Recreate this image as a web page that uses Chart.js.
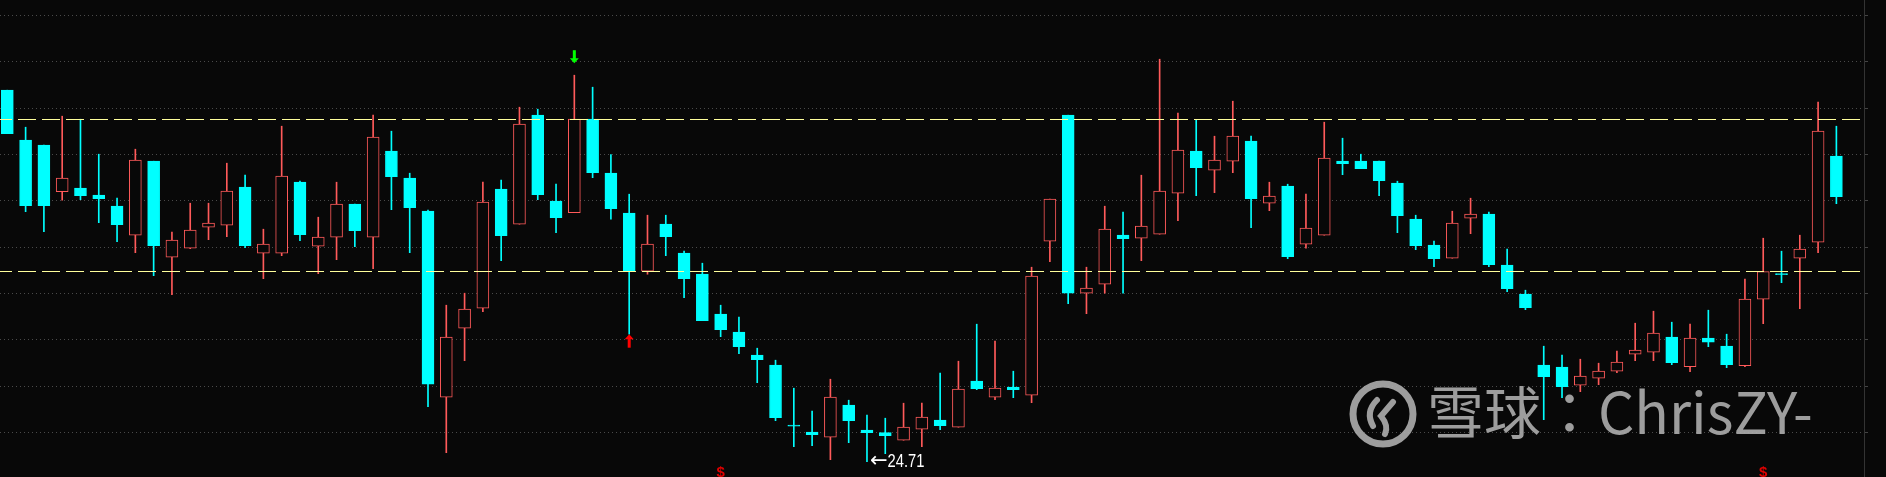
<!DOCTYPE html>
<html>
<head>
<meta charset="utf-8">
<script src="https://cdn.jsdelivr.net/npm/chart.js@4.4.0/dist/chart.umd.min.js"></script>
<style>
  html, body { margin: 0; padding: 0; background: #080808; }
  #wrap { width: 1886px; height: 477px; }
</style>
</head>
<body>
<div id="wrap"><canvas id="kline" width="1886" height="477"></canvas></div>
<script>
'use strict';

// daily candles, oldest first
let openPx = [
    32.14, 31.14, 31.04, 30.11, 30.18, 30.04, 29.82, 29.24, 30.72, 28.80,
    28.98, 29.40, 29.44, 30.20, 28.88, 28.88, 30.30, 29.02, 29.20, 29.86,
    29.20, 30.92, 30.38, 29.72, 26.00, 27.38, 27.78, 30.16, 29.46, 31.64,
    29.92, 29.69, 31.56, 30.48, 29.68, 28.52, 29.46, 28.88, 28.46, 27.66,
    27.30, 26.84, 26.64, 25.44, 25.30, 25.20, 25.84, 25.34, 25.29, 25.14,
    25.36, 25.54, 25.40, 26.32, 26.00, 26.20, 26.04, 29.12, 31.64, 28.08,
    28.26, 29.24, 29.18, 29.26, 30.08, 30.92, 30.54, 30.72, 31.12, 29.88,
    30.22, 29.06, 29.24, 30.72, 30.72, 30.72, 30.28, 29.56, 29.04, 28.78,
    29.58, 29.66, 28.64, 28.06, 26.64, 26.60, 26.24, 26.38, 26.52, 26.86,
    26.90, 27.20, 26.61, 27.18, 27.02, 26.63, 27.96, 28.47, 28.78, 29.10,
    30.82
];
let closePx = [
    31.27, 29.83, 29.83, 30.38, 30.03, 29.97, 29.45, 30.74, 29.03, 29.14,
    29.34, 29.48, 30.12, 29.03, 29.06, 30.42, 29.25, 29.20, 29.86, 29.33,
    31.20, 30.41, 29.79, 26.26, 27.20, 27.76, 29.90, 29.23, 31.46, 30.05,
    29.59, 31.56, 30.49, 29.77, 28.52, 29.06, 29.21, 28.37, 27.53, 27.35,
    27.01, 26.75, 25.59, 25.42, 25.25, 26.00, 25.53, 25.29, 25.23, 25.40,
    25.60, 25.43, 26.16, 26.17, 26.18, 26.15, 28.42, 29.96, 28.08, 28.18,
    29.36, 29.17, 29.42, 30.12, 30.94, 30.59, 30.74, 31.22, 29.97, 30.02,
    28.81, 29.38, 30.78, 30.67, 30.57, 30.33, 29.63, 29.03, 28.77, 29.48,
    29.66, 28.65, 28.17, 27.79, 26.41, 26.21, 26.42, 26.52, 26.70, 26.94,
    27.28, 26.69, 27.18, 27.10, 26.65, 27.96, 28.51, 28.45, 28.96, 31.32,
    30.01
];
let highPx = [
    32.14, 31.40, 31.04, 31.62, 31.56, 30.86, 29.98, 30.96, 30.72, 29.30,
    29.88, 29.88, 30.68, 30.44, 29.36, 31.42, 30.32, 29.60, 30.30, 29.86,
    31.64, 31.32, 30.48, 29.74, 27.84, 28.08, 30.30, 30.34, 31.80, 31.76,
    30.26, 32.44, 32.20, 30.85, 30.06, 29.64, 29.64, 28.92, 28.68, 27.84,
    27.60, 26.98, 26.74, 26.18, 25.72, 26.36, 25.94, 25.64, 25.58, 25.88,
    25.88, 26.48, 26.72, 27.46, 27.12, 26.52, 28.60, 29.96, 31.64, 28.60,
    29.82, 29.70, 30.44, 32.76, 31.68, 31.55, 31.22, 31.92, 31.22, 30.30,
    30.26, 30.06, 31.50, 31.18, 30.86, 30.72, 30.32, 29.64, 29.12, 29.72,
    29.98, 29.70, 28.96, 28.14, 27.02, 26.84, 26.76, 26.68, 26.92, 27.48,
    27.72, 27.50, 27.46, 27.74, 27.26, 28.36, 29.18, 28.92, 29.24, 31.90,
    31.42
];
let lowPx = [
    31.27, 29.71, 29.31, 29.94, 29.95, 29.49, 29.11, 28.89, 28.43, 28.05,
    28.97, 29.15, 29.21, 28.99, 28.37, 28.83, 29.13, 28.47, 28.75, 29.01,
    28.57, 29.75, 28.89, 25.81, 24.89, 26.73, 27.71, 28.73, 29.46, 29.95,
    29.29, 29.69, 30.39, 29.56, 27.26, 28.46, 28.83, 27.99, 27.53, 27.21,
    26.87, 26.29, 25.53, 25.01, 25.03, 24.75, 25.09, 24.71, 24.87, 25.14,
    25.01, 25.35, 25.40, 26.15, 25.95, 25.99, 25.89, 28.71, 27.87, 27.67,
    28.08, 28.08, 28.73, 29.26, 29.53, 30.03, 30.09, 30.49, 29.39, 29.73,
    28.77, 28.98, 29.24, 30.45, 30.57, 30.03, 29.29, 28.95, 28.61, 28.78,
    29.27, 28.61, 28.11, 27.75, 25.55, 25.99, 26.11, 26.25, 26.49, 26.73,
    26.73, 26.65, 26.51, 27.01, 26.59, 26.61, 27.47, 28.29, 27.77, 28.89,
    29.87
];

// horizontal reference prices (dashed) and the dotted grid levels
let refLines = [31.56, 28.52];
let gridLevels = [33.637, 32.710, 31.784, 30.857, 29.931, 29.004, 28.078, 27.151, 26.224, 25.298];

// signal marks
let sellDay = 31;
let buyDay = 34;
let dollarDays = [39, 96];
let lowDay = 47;

let watermark = '雪球：ChrisZY-';

const upColor = '#ff5a5a';
const downColor = '#00ffff';
const bgColor = '#080808';

let days = openPx.map((v, i) => i);
let isUp = days.map(i => closePx[i] > openPx[i]);

let bodyData = days.map(i => ({ x: i, y: [openPx[i], closePx[i]] }));
let wickData = days.map(i => ({ x: i, y: [lowPx[i], highPx[i]] }));

function drawLogo(ctx, cx, cy) {
    ctx.save();
    ctx.strokeStyle = '#aaaaaa';
    ctx.lineCap = 'round';
    ctx.lineWidth = 7;
    ctx.beginPath();
    ctx.arc(cx, cy, 30, 0, Math.PI * 2);
    ctx.stroke();
    ctx.lineWidth = 6;
    ctx.beginPath();
    ctx.moveTo(cx - 6, cy - 14);
    ctx.quadraticCurveTo(cx - 18, cy - 2, cx - 10, cy + 12);
    ctx.stroke();
    ctx.beginPath();
    ctx.moveTo(cx + 10, cy - 12);
    ctx.lineTo(cx - 2, cy + 2);
    ctx.quadraticCurveTo(cx + 6, cy + 12, cx + 2, cy + 20);
    ctx.stroke();
    ctx.restore();
}

const overlay = {
    id: 'overlay',
    beforeDatasetsDraw(chart) {
        let ctx = chart.ctx;
        ctx.save();
        ctx.globalAlpha = 0.92;
        drawLogo(ctx, 1383, 414);
        ctx.fillStyle = '#aaaaaa';
        ctx.font = '57px "Noto Sans CJK TC"';
        ctx.textBaseline = 'alphabetic';
        ctx.textAlign = 'left';
        ctx.fillText(watermark, 1427, 434);
        ctx.restore();
    },
    afterDatasetsDraw(chart) {
        let ctx = chart.ctx;
        let area = chart.chartArea;
        let xs = chart.scales.x;
        let ys = chart.scales.y;
        ctx.save();

        ctx.strokeStyle = '#ffff9c';
        ctx.lineWidth = 1;
        ctx.setLineDash([18, 6]);
        ctx.lineDashOffset = 6;
        refLines.forEach(v => {
            let py = Math.round(ys.getPixelForValue(v)) + 0.5;
            ctx.beginPath();
            ctx.moveTo(area.left, py);
            ctx.lineTo(area.right - 4, py);
            ctx.stroke();
        });
        ctx.setLineDash([]);

        // green sell arrow above the high
        let gx = xs.getPixelForValue(sellDay);
        let gy = ys.getPixelForValue(highPx[sellDay]) - 12;
        ctx.fillStyle = '#00ff00';
        ctx.fillRect(gx - 1.5, gy - 13, 3, 9);
        ctx.beginPath();
        ctx.moveTo(gx - 4.5, gy - 5);
        ctx.lineTo(gx + 4.5, gy - 5);
        ctx.lineTo(gx, gy);
        ctx.fill();

        // red buy arrow under the low
        let rx = xs.getPixelForValue(buyDay);
        let ry = ys.getPixelForValue(lowPx[buyDay]);
        ctx.fillStyle = '#ff0000';
        ctx.beginPath();
        ctx.moveTo(rx, ry);
        ctx.lineTo(rx + 4.5, ry + 5);
        ctx.lineTo(rx - 4.5, ry + 5);
        ctx.fill();
        ctx.fillRect(rx - 1.5, ry + 4, 3, 9.5);

        ctx.fillStyle = '#e00000';
        ctx.font = 'bold 15px "Liberation Sans"';
        ctx.textAlign = 'center';
        ctx.textBaseline = 'top';
        dollarDays.forEach(d => {
            ctx.fillText('$', xs.getPixelForValue(d), area.bottom - 12);
        });

        // lowest price label
        let lx = xs.getPixelForValue(lowDay) + 3;
        let ly = ys.getPixelForValue(lowPx[lowDay]);
        ctx.fillStyle = '#ffffff';
        ctx.textAlign = 'left';
        ctx.textBaseline = 'middle';
        ctx.font = '21px "DejaVu Sans"';
        ctx.fillText('←', lx, ly);
        let aw = ctx.measureText('←').width;
        ctx.translate(lx + aw, ly);
        ctx.scale(0.82, 1);
        ctx.font = '18px "Liberation Sans"';
        ctx.fillText(lowPx[lowDay].toFixed(2), 0, 0);
        ctx.restore();
    }
};

let ctx = document.getElementById('kline').getContext('2d');

let chart = new Chart(ctx, {
    type: 'bar',
    data: {
        datasets: [
            {
                label: 'body',
                data: bodyData,
                backgroundColor: days.map(i => isUp[i] ? bgColor : downColor),
                borderColor: days.map(i => isUp[i] ? upColor : downColor),
                borderWidth: 1,
                borderSkipped: false,
                barThickness: 12,
                grouped: false,
                order: 1
            },
            {
                label: 'wick',
                data: wickData,
                backgroundColor: days.map(i => isUp[i] ? upColor : downColor),
                borderWidth: 0,
                barThickness: 1,
                grouped: false,
                order: 2
            }
        ]
    },
    options: {
        responsive: false,
        animation: false,
        events: [],
        layout: { padding: { left: 0, right: 18, top: 0, bottom: 0 } },
        plugins: {
            legend: { display: false },
            tooltip: { enabled: false }
        },
        scales: {
            x: {
                type: 'linear',
                min: -0.4,
                max: 101.51,
                offset: false,
                display: false,
                grid: { offset: false }
            },
            y: {
                type: 'linear',
                position: 'right',
                min: 24.404,
                max: 33.944,
                afterBuildTicks: scale => {
                    scale.ticks = gridLevels.map(v => ({ value: v }));
                },
                ticks: { display: false },
                grid: {
                    color: '#4a4a4a',
                    lineWidth: 1,
                    drawTicks: true,
                    tickLength: 4,
                    tickColor: '#444444',
                    tickBorderDash: []
                },
                border: { display: true, color: '#333333', width: 1, dash: [1, 3] }
            }
        }
    },
    plugins: [overlay]
});
</script>
</body>
</html>
